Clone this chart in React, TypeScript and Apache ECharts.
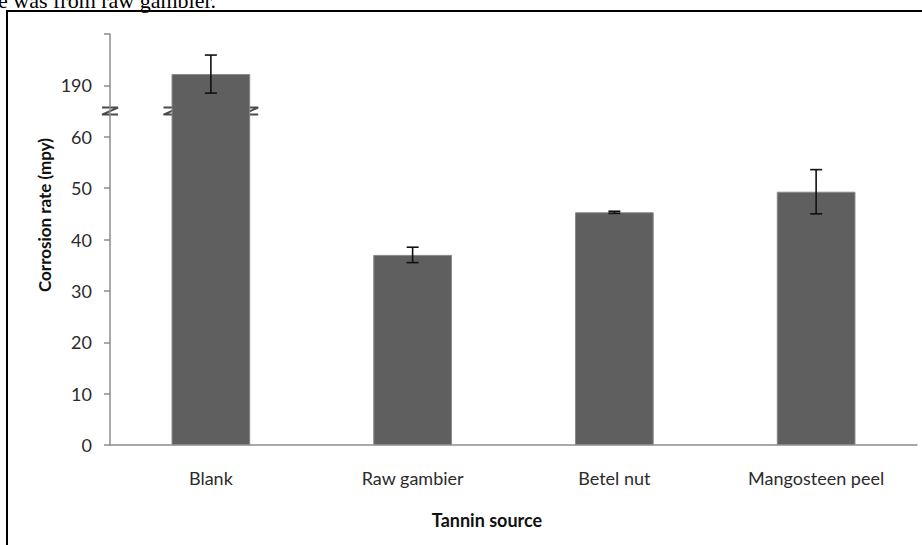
import React, { useEffect, useRef } from "react";
import * as echarts from "echarts";

const categories = ["Blank", "Raw gambier", "Betel nut", "Mangosteen peel"];
const corrosionRate = [192.2, 37.0, 45.3, 49.3];
const errorSize = [3.7, 1.5, 0.2, 4.3];
const lowerTicks = [0, 10, 20, 30, 40, 50, 60];
const upperTicks = [190];

// broken axis: values above BREAK_AT are shifted down by SHIFT
const BREAK_AT = 65;
const SHIFT = 120;
const toAxis = (v: number) => (v > BREAK_AT ? v - SHIFT : v);
const fromAxis = (v: number) => (v > BREAK_AT ? v + SHIFT : v);

const FONT = "Lato, 'Open Sans', sans-serif";

export default function App() {
  const ref = useRef<HTMLDivElement>(null);
  useEffect(() => {
    if (!ref.current) return;
    const chart = echarts.init(ref.current, undefined, { renderer: "svg" });
    const barData = corrosionRate.map((v) => toAxis(v));
    const errData = corrosionRate.map((v, i) => [i, toAxis(v - errorSize[i]), toAxis(v + errorSize[i])]);
    const shown = new Set([...lowerTicks, ...upperTicks].map((t) => toAxis(t)));

    chart.setOption({
      animation: false,
      backgroundColor: "#ffffff",
      grid: { left: 110, right: 5, top: 34, bottom: 100, containLabel: false },
      xAxis: {
        type: "category",
        data: categories,
        axisLine: { lineStyle: { color: "#8c8c8c", width: 1.5 } },
        axisTick: { show: false },
        axisLabel: { color: "#2b2b2b", fontSize: 18, fontFamily: FONT, margin: 24 },
      },
      yAxis: {
        type: "value",
        min: 0,
        max: 80,
        interval: 10,
        splitLine: { show: false },
        axisLine: { show: true, lineStyle: { color: "#8c8c8c", width: 1.5 } },
        axisTick: { show: true, length: 6, lineStyle: { color: "#8c8c8c", width: 1.5 } },
        axisLabel: {
          color: "#2b2b2b",
          fontSize: 18,
          fontFamily: FONT,
          margin: 18,
          formatter: (v: number) => (shown.has(v) ? String(fromAxis(v)) : ""),
        },
      },
      series: [
        {
          type: "bar",
          data: barData,
          barWidth: "39%",
          itemStyle: { color: "#5f5f5f", borderColor: "#878787", borderWidth: 1 },
        },
        {
          type: "custom",
          data: errData,
          encode: { x: 0, y: [1, 2] },
          z: 5,
          renderItem: (params: any, api: any) => {
            const x = api.value(0);
            const lo = api.coord([x, api.value(1)]);
            const hi = api.coord([x, api.value(2)]);
            const cap = 6;
            const style = { stroke: "#111111", lineWidth: 1.6 };
            return {
              type: "group",
              children: [
                { type: "line", shape: { x1: lo[0], y1: lo[1], x2: hi[0], y2: hi[1] }, style },
                { type: "line", shape: { x1: lo[0] - cap, y1: lo[1], x2: lo[0] + cap, y2: lo[1] }, style },
                { type: "line", shape: { x1: hi[0] - cap, y1: hi[1], x2: hi[0] + cap, y2: hi[1] }, style },
              ],
            };
          },
        },
      ],
    });

    // break marks
    const yb = chart.convertToPixel({ yAxisIndex: 0 }, BREAK_AT) as number;
    const x0 = chart.convertToPixel({ xAxisIndex: 0 }, 0) as number;
    const x1 = chart.convertToPixel({ xAxisIndex: 0 }, 1) as number;
    const half = ((x1 - x0) * 0.39) / 2;
    const axisX = x0 - (x1 - x0) / 2;
    const zMark = (cx: number) => ({
      type: "group",
      x: cx,
      y: yb,
      z: 100,
      children: [
        {
          type: "polyline",
          shape: { points: [[-8, -3.5], [8, -3.5], [-8, 3.5], [8, 3.5]] },
          style: { stroke: "#4a4a4a", lineWidth: 2, fill: "none" },
        },
      ],
    });

    chart.setOption({
      graphic: [
        zMark(axisX),
        zMark(x0 - half),
        zMark(x0 + half),
        {
          type: "text",
          x: 44,
          y: 215,
          rotation: Math.PI / 2,
          style: {
            text: "Corrosion rate (mpy)",
            font: `bold 17px ${FONT}`,
            fill: "#111111",
            align: "center",
            verticalAlign: "middle",
          },
        },
        {
          type: "text",
          x: 487,
          y: 520,
          style: {
            text: "Tannin source",
            font: `bold 18px ${FONT}`,
            fill: "#111111",
            align: "center",
            verticalAlign: "middle",
          },
        },
        {
          type: "text",
          x: -2,
          y: 11,
          style: {
            text: "e was from raw gambier.",
            font: "22px 'Liberation Serif', 'DejaVu Serif', serif",
            fill: "#000000",
            align: "left",
            verticalAlign: "bottom",
          },
        },
        {
          type: "polyline",
          shape: { points: [[7, 545], [7, 11], [922, 11]] },
          style: { stroke: "#000000", lineWidth: 2, fill: "none" },
        },
      ],
    });

    return () => chart.dispose();
  }, []);

  return <div ref={ref} style={{ width: 922, height: 545, position: "absolute", left: 0, top: 0 }} />;
}
